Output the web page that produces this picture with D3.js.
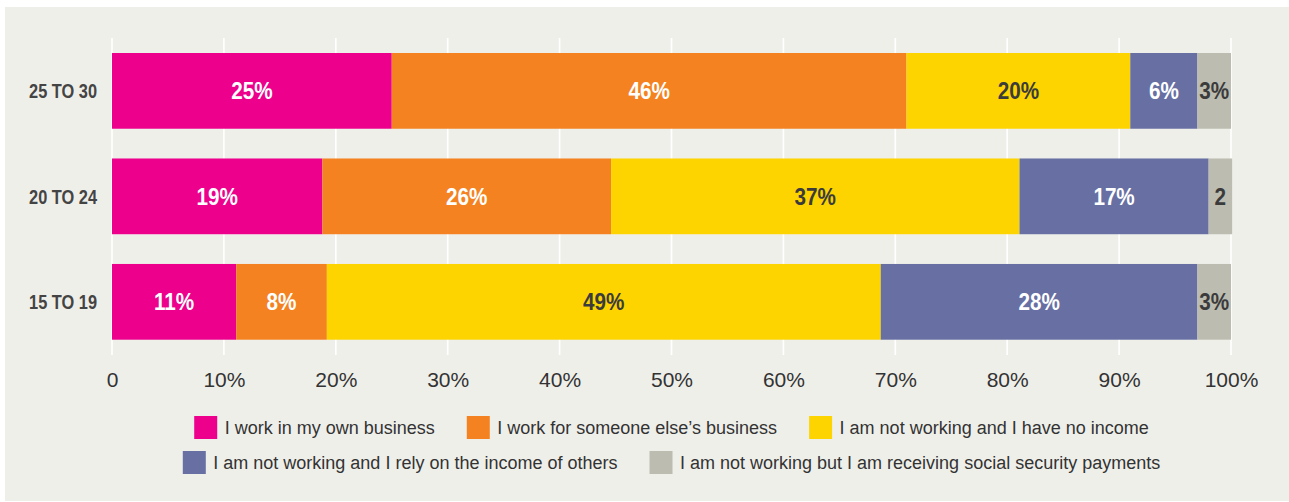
<!DOCTYPE html>
<html>
  <head>
    <meta charset="utf-8">
    <title>Work status by age group</title>
    <style>
      body { margin: 0; background: #fff; }
    </style>
  </head>
  <body>
    <script src="https://d3js.org/d3.v7.min.js"></script>
    <svg id="chart" width="1289" height="502"></svg>
    <script>

      // Categories (top to bottom) and the five answers
      var ageGroups = ["25 TO 30", "20 TO 24", "15 TO 19"];
      var answers = [
        "I work in my own business",
        "I work for someone else\u2019s business",
        "I am not working and I have no income",
        "I am not working and I rely on the income of others",
        "I am not working but I am receiving social security payments"
      ];

      // Share of each answer per age group (%), one array per answer
      var ownBusiness   = [25, 18.8, 11.1];
      var someoneElse   = [46, 25.8, 8.1];
      var noIncome      = [20, 36.5, 49.5];
      var relyOnOthers  = [6, 16.9, 28.3];
      var socialSecurity = [3, 2.1, 3.0];

      // Printed labels on the bars
      var barLabels = [
        ["25%", "46%", "20%", "6%", "3%"],
        ["19%", "26%", "37%", "17%", "2"],
        ["11%", "8%", "49%", "28%", "3%"]
      ];

      var tickValues = [0, 10, 20, 30, 40, 50, 60, 70, 80, 90, 100];
      var colors = ["#ec008c", "#f58220", "#fdd400", "#676fa3", "#bcbcb1"];
      var labelColors = ["#fff", "#fff", "#3b3b3b", "#fff", "#3b3b3b"];

      var series = [ownBusiness, someoneElse, noIncome, relyOnOthers, socialSecurity];
      var keys = d3.range(answers.length);
      var rows = ageGroups.map(function (g, i) {
        var r = { group: g, idx: i };
        keys.forEach(function (k) { r[k] = series[k][i]; });
        return r;
      });

      var svg = d3.select("#chart");

      // panel background
      svg.append("rect")
        .attr("x", 5).attr("y", 7)
        .attr("width", 1284).attr("height", 494)
        .attr("fill", "#efefea");

      var x = d3.scaleLinear().domain([0, 100]).range([112, 1231]);
      var y = d3.scaleBand().domain(ageGroups).range([53, 339.7])
        .paddingInner(0.282).paddingOuter(0);

      // vertical white grid lines
      svg.append("g")
        .selectAll("line")
        .data(tickValues)
        .enter()
        .append("line")
          .attr("x1", function (d) { return x(d); })
          .attr("x2", function (d) { return x(d); })
          .attr("y1", 38).attr("y2", 355)
          .attr("stroke", "#fff")
          .attr("stroke-width", 1.6);

      var stacked = d3.stack().keys(keys)(rows);

      var layers = svg.append("g")
        .selectAll("g")
        .data(stacked)
        .enter()
        .append("g")
          .attr("fill", function (d) { return colors[d.key]; });

      layers.selectAll("rect")
        .data(function (d) { return d; })
        .enter()
        .append("rect")
          .attr("x", function (d) { return x(d[0]); })
          .attr("width", function (d) { return x(d[1]) - x(d[0]); })
          .attr("y", function (d) { return y(d.data.group); })
          .attr("height", y.bandwidth());

      // value labels, condensed bold
      layers.selectAll("text")
        .data(function (d) { return d.map(function (p) { p.key = d.key; return p; }); })
        .enter()
        .append("text")
          .attr("transform", function (d) {
            var cx = (x(d[0]) + x(d[1])) / 2;
            var cy = y(d.data.group) + y.bandwidth() / 2 + 8.6;
            return "translate(" + cx + "," + cy + ") scale(0.88,1)";
          })
          .attr("text-anchor", "middle")
          .attr("font-family", "'Liberation Sans Narrow', 'Liberation Sans', sans-serif")
          .attr("font-weight", "bold")
          .attr("font-size", 23.5)
          .attr("fill", function (d) { return labelColors[d.key]; })
          .text(function (d) { return barLabels[d.data.idx][d.key]; });

      // age group labels
      svg.append("g")
        .selectAll("text")
        .data(ageGroups)
        .enter()
        .append("text")
          .attr("transform", function (d) {
            return "translate(97," + (y(d) + y.bandwidth() / 2 + 7.2) + ") scale(0.84,1)";
          })
          .attr("text-anchor", "end")
          .attr("font-family", "'Liberation Sans Narrow', 'Liberation Sans', sans-serif")
          .attr("font-weight", "bold")
          .attr("font-size", 19.5)
          .attr("fill", "#444")
          .text(function (d) { return d; });

      // x axis
      var axis = svg.append("g")
        .attr("transform", "translate(0,355)")
        .call(d3.axisBottom(x)
          .tickValues(tickValues)
          .tickSize(0)
          .tickPadding(17)
          .tickFormat(function (d) { return d === 0 ? "0" : d + "%"; }));
      axis.select(".domain").remove();
      axis.attr("font-family", "'Liberation Sans', Arial, sans-serif")
        .attr("font-size", 21);
      axis.selectAll("text").attr("fill", "#333");

      // legend, two centred rows
      var legendRows = [[0, 1, 2], [3, 4]];
      var legendTop = [416, 451];
      var cxPlot = (x(0) + x(100)) / 2;

      legendRows.forEach(function (items, r) {
        var g = svg.append("g");
        var entries = g.selectAll("g")
          .data(items)
          .enter()
          .append("g");
        entries.append("rect")
          .attr("width", 23).attr("height", 23)
          .attr("fill", function (d) { return colors[d]; });
        entries.append("text")
          .attr("x", 30.5).attr("y", 18)
          .attr("font-family", "'Liberation Sans', Arial, sans-serif")
          .attr("font-size", 18)
          .attr("fill", "#333")
          .text(function (d) { return answers[d]; });

        var widths = [];
        entries.each(function () {
          widths.push(30.5 + d3.select(this).select("text").node().getComputedTextLength());
        });
        var gap = 32;
        var total = d3.sum(widths) + gap * (widths.length - 1);
        var pos = cxPlot - total / 2;
        entries.attr("transform", function (d, i) {
          var t = "translate(" + pos + "," + legendTop[r] + ")";
          pos += widths[i] + gap;
          return t;
        });
      });
    </script>
  </body>
</html>
